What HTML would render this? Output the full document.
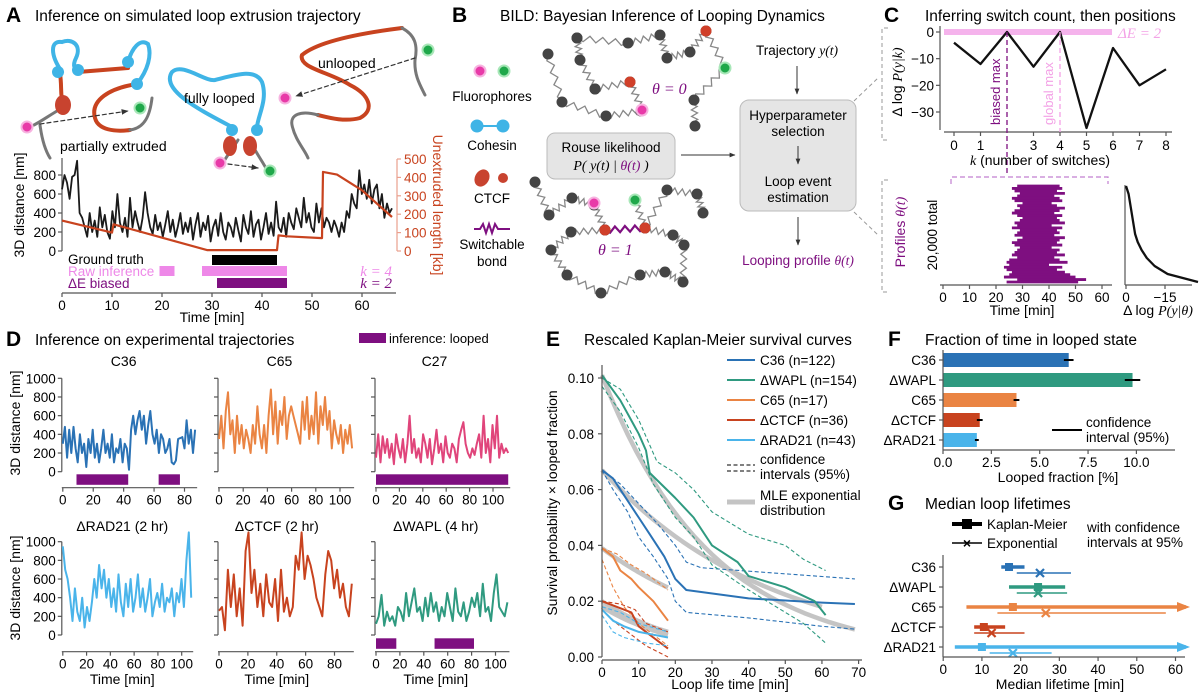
<!DOCTYPE html>
<html><head><meta charset="utf-8"><style>
html,body{margin:0;padding:0;background:#fff;}
svg{display:block;font-family:"Liberation Sans",sans-serif;}
text{font-family:"Liberation Sans",sans-serif;}
.it{font-family:"Liberation Serif",serif;font-style:italic;}
</style></head><body>
<svg id="fig" width="1200" height="698" viewBox="0 0 1200 698" xmlns="http://www.w3.org/2000/svg">
<defs>
<marker id="arr" viewBox="0 0 10 10" refX="9" refY="5" markerWidth="6" markerHeight="6" orient="auto"><path d="M0,1 L10,5 L0,9 z" fill="#333"/></marker>
</defs>
<text x="6" y="22" font-size="21" font-weight="bold">A</text>
<text x="35" y="21" font-size="15.5">Inference on simulated loop extrusion trajectory</text>
<text x="452" y="22" font-size="21" font-weight="bold">B</text>
<text x="500" y="21" font-size="15.5">BILD: Bayesian Inference of Looping Dynamics</text>
<text x="884" y="22" font-size="21" font-weight="bold">C</text>
<text x="925" y="21" font-size="15.5">Inferring switch count, then positions</text>
<text x="6" y="346" font-size="21" font-weight="bold">D</text>
<text x="35" y="345" font-size="15.5">Inference on experimental trajectories</text>
<rect x="359" y="333" width="27" height="10" fill="#7e0f80"/>
<text x="389" y="343" font-size="13">inference: looped</text>
<text x="546" y="346" font-size="21" font-weight="bold">E</text>
<text x="584" y="345" font-size="15.5">Rescaled Kaplan-Meier survival curves</text>
<text x="888" y="346" font-size="21" font-weight="bold">F</text>
<text x="925" y="345" font-size="15.5">Fraction of time in looped state</text>
<text x="888" y="510" font-size="21" font-weight="bold">G</text>
<text x="925" y="509" font-size="15.5">Median loop lifetimes</text>

<g fill="none" stroke-linecap="round">
<path d="M62,72 C50,55 50,40 62,42 C72,38 82,45 76,58 C72,66 75,70 78,70" stroke="#3fb4e6" stroke-width="4"/>
<path d="M128,62 C132,48 140,38 148,44 C152,55 148,70 137,84" stroke="#3fb4e6" stroke-width="4"/>
<path d="M78,72 L128,68" stroke="#c8431f" stroke-width="4"/>
<path d="M60,74 C62,85 60,95 63,105" stroke="#c8431f" stroke-width="4"/>
<path d="M62,108 C50,115 40,122 34,125 M40,125 C42,140 45,150 50,158" stroke="#777" stroke-width="3"/>
<path d="M137,84 C110,88 90,100 95,118 C98,130 115,132 130,130" stroke="#c8431f" stroke-width="4"/>
<path d="M130,130 C145,128 150,115 152,98" stroke="#777" stroke-width="3"/>
<path d="M232,127 C200,110 160,90 172,72 C182,62 205,82 215,80 C235,75 255,68 262,82 C268,100 258,115 257,127" stroke="#3fb4e6" stroke-width="4"/>
<path d="M238,140 C232,150 225,158 222,165 M250,140 C255,152 262,160 268,172" stroke="#777" stroke-width="3"/>
<path d="M402,28 C370,32 320,40 302,55 C298,68 330,72 350,85 C370,95 375,110 360,118 C345,122 330,118 318,115" stroke="#c8431f" stroke-width="4"/>
<path d="M402,28 C415,35 418,45 415,60 C414,75 420,85 425,95 M318,115 C300,110 290,115 292,125 C295,140 305,150 308,158" stroke="#777" stroke-width="3"/>
<circle cx="58" cy="72" r="6" fill="#3fb4e6" stroke="none"/>
<circle cx="78" cy="70" r="6" fill="#3fb4e6" stroke="none"/>
<circle cx="128" cy="62" r="6" fill="#3fb4e6" stroke="none"/>
<circle cx="137" cy="84" r="6" fill="#3fb4e6" stroke="none"/>
<circle cx="232" cy="130" r="6" fill="#3fb4e6" stroke="none"/>
<circle cx="257" cy="130" r="6" fill="#3fb4e6" stroke="none"/>
<ellipse cx="63" cy="105" rx="8" ry="10" fill="#c8432f" stroke="none"/>
<ellipse cx="230" cy="146" rx="7" ry="10" fill="#c8432f" stroke="none"/>
<ellipse cx="250" cy="146" rx="7" ry="10" fill="#c8432f" stroke="none"/>
<circle cx="27" cy="127" r="5.5" fill="#e83aa8" stroke="#f7b3e0" stroke-width="2"/>
<circle cx="140" cy="108" r="5.5" fill="#1fa84a" stroke="#a8e7b8" stroke-width="2"/>
<circle cx="220" cy="163" r="5.5" fill="#e83aa8" stroke="#f7b3e0" stroke-width="2"/>
<circle cx="270" cy="171" r="5.5" fill="#1fa84a" stroke="#a8e7b8" stroke-width="2"/>
<circle cx="285" cy="98" r="5.5" fill="#e83aa8" stroke="#f7b3e0" stroke-width="2"/>
<circle cx="428" cy="50" r="5.5" fill="#1fa84a" stroke="#a8e7b8" stroke-width="2"/>
<path d="M40,124 L128,111" stroke="#333" stroke-width="1.2" stroke-dasharray="4,3" marker-end="url(#arr)"/>
<path d="M228,164 L258,168" stroke="#333" stroke-width="1.2" stroke-dasharray="4,3" marker-end="url(#arr)"/>
<path d="M415,58 L296,96" stroke="#333" stroke-width="1.2" stroke-dasharray="4,3" marker-end="url(#arr)"/>
</g>
<text x="60" y="151" font-size="14">partially extruded</text>
<text x="184" y="103" font-size="14">fully looped</text>
<text x="318" y="68" font-size="14">unlooped</text>

<g>
<circle cx="480" cy="71" r="5.5" fill="#e83aa8" stroke="#f7b3e0" stroke-width="2"/>
<circle cx="504" cy="71" r="5.5" fill="#1fa84a" stroke="#a8e7b8" stroke-width="2"/>
<text x="492" y="101" font-size="13.5" text-anchor="middle">Fluorophores</text>
<line x1="477" y1="126" x2="503" y2="126" stroke="#3fb4e6" stroke-width="2"/>
<circle cx="477" cy="126" r="6.5" fill="#3fb4e6"/>
<circle cx="503" cy="126" r="6.5" fill="#3fb4e6"/>
<text x="492" y="150" font-size="13.5" text-anchor="middle">Cohesin</text>
<ellipse cx="482" cy="178" rx="7" ry="9" fill="#c8432f" transform="rotate(30 482 178)"/>
<circle cx="503" cy="178" r="5" fill="#c8432f"/>
<text x="492" y="203" font-size="13.5" text-anchor="middle">CTCF</text>
<path d="M474,229 L480,229 L483,224 L486,233 L489,224 L492,233 L495,224 L498,229 L510,229" fill="none" stroke="#7e0f80" stroke-width="2"/>
<text x="492" y="249" font-size="13.5" text-anchor="middle">Switchable</text>
<text x="492" y="266" font-size="13.5" text-anchor="middle">bond</text>
</g>
<g id="bchains"></g>
<text x="652" y="94" font-size="16" class="it" fill="#7e0f80">θ = 0</text>
<text x="598" y="255" font-size="16" class="it" fill="#7e0f80">θ = 1</text>
<rect x="547" y="133" width="128" height="46" rx="8" fill="#e5e5e5" stroke="#bbb"/>
<text x="611" y="152" font-size="13.5" text-anchor="middle">Rouse likelihood</text>
<text x="611" y="170" font-size="14" text-anchor="middle" class="it">P( y(t) | <tspan fill="#7e0f80">θ(t)</tspan> )</text>
<text x="797" y="55" font-size="13.5" text-anchor="middle">Trajectory <tspan class="it">y(t)</tspan></text>
<line x1="797" y1="66" x2="797" y2="94" stroke="#333" marker-end="url(#arr)"/>
<line x1="681" y1="155" x2="735" y2="155" stroke="#333" marker-end="url(#arr)"/>
<rect x="740" y="100" width="116" height="111" rx="9" fill="#e5e5e5" stroke="#bbb"/>
<text x="798" y="120" font-size="13.5" text-anchor="middle">Hyperparameter</text>
<text x="798" y="136" font-size="13.5" text-anchor="middle">selection</text>
<line x1="798" y1="146" x2="798" y2="164" stroke="#333" marker-end="url(#arr)"/>
<text x="798" y="186" font-size="13.5" text-anchor="middle">Loop event</text>
<text x="798" y="202" font-size="13.5" text-anchor="middle">estimation</text>
<line x1="798" y1="217" x2="798" y2="245" stroke="#333" marker-end="url(#arr)"/>
<text x="798" y="265" font-size="13.5" text-anchor="middle" fill="#7e0f80">Looping profile <tspan class="it">θ(t)</tspan></text>
<path d="M854,101 L878,78 M854,212 L878,235" stroke="#999" stroke-dasharray="4,3" fill="none"/>
<path d="M888,28 L882,28 L882,140 L888,140 M888,180 L882,180 L882,292 L888,292" stroke="#999" stroke-dasharray="4,3" fill="none"/>

<g id="plots"></g>

<text x="1118" y="38" font-size="15" class="it" fill="#f3a2e6">ΔE = 2</text>
<text x="1040" y="165" font-size="14" text-anchor="middle"><tspan class="it">k</tspan> (number of switches)</text>
<text x="1000" y="125" font-size="13" fill="#7e0f80" transform="rotate(-90 1000 125)">biased max</text>
<text x="1053" y="125" font-size="13" fill="#f3a2e6" transform="rotate(-90 1053 125)">global max</text>
<text x="902" y="82" font-size="14" text-anchor="middle" transform="rotate(-90 902 82)">Δ log <tspan class="it">P(y|k)</tspan></text>
<text x="905" y="232" font-size="14" text-anchor="middle" fill="#7e0f80" transform="rotate(-90 905 232)">Profiles <tspan class="it">θ(t)</tspan></text>
<text x="937" y="235" font-size="13.5" text-anchor="middle" transform="rotate(-90 937 235)">20,000 total</text>
<text x="1022" y="315" font-size="14" text-anchor="middle">Time [min]</text>
<text x="1158" y="315" font-size="14" text-anchor="middle">Δ log <tspan class="it">P(y|θ)</tspan></text>
<text x="24" y="205" font-size="14" text-anchor="middle" transform="rotate(-90 24 205)">3D distance [nm]</text>
<text x="433" y="205" font-size="14" text-anchor="middle" fill="#c8431f" transform="rotate(90 433 205)">Unextruded length [kb]</text>
<text x="212" y="322" font-size="14" text-anchor="middle">Time [min]</text>
<text x="68" y="264" font-size="13.5">Ground truth</text>
<text x="68" y="276" font-size="13.5" fill="#ee88e8">Raw inference</text>
<text x="68" y="288" font-size="13.5" fill="#7e0f80">ΔE biased</text>
<text x="392" y="276" font-size="15" class="it" fill="#ee88e8" text-anchor="end">k = 4</text>
<text x="392" y="288" font-size="15" class="it" fill="#7e0f80" text-anchor="end">k = 2</text>
<text x="20" y="423" font-size="14" text-anchor="middle" transform="rotate(-90 20 423)">3D distance [nm]</text>
<text x="20" y="588" font-size="14" text-anchor="middle" transform="rotate(-90 20 588)">3D distance [nm]</text>
<text x="557" y="503" font-size="14" text-anchor="middle" transform="rotate(-90 557 503)">Survival probability × looped fraction</text>
<text x="730" y="689" font-size="14" text-anchor="middle">Loop life time [min]</text>
<text x="1058" y="482" font-size="14" text-anchor="middle">Looped fraction [%]</text>
<text x="1060" y="689" font-size="14" text-anchor="middle">Median lifetime [min]</text>
<text x="1086" y="427" font-size="13.5">confidence</text>
<text x="1086" y="442" font-size="13.5">interval (95%)</text>
<line x1="1052" y1="430" x2="1082" y2="430" stroke="#000" stroke-width="2"/>
<text x="987" y="529" font-size="13.5">Kaplan-Meier</text>
<text x="987" y="548" font-size="13.5">Exponential</text>
<text x="1087" y="532" font-size="13.5">with confidence</text>
<text x="1087" y="547" font-size="13.5">intervals at 95%</text>
<line x1="952" y1="524" x2="982" y2="524" stroke="#000" stroke-width="4"/>
<rect x="962" y="519" width="10" height="10" fill="#000"/>
<line x1="952" y1="543" x2="982" y2="543" stroke="#000" stroke-width="1.5"/>
<text x="967" y="548" font-size="14" font-weight="bold" text-anchor="middle">×</text>
</svg>
<script>
const aTrace = [650,800,720,550,780,800,950,400,350,250,150,400,200,320,150,460,250,380,200,130,420,250,600,300,200,350,150,560,250,420,300,200,350,620,400,250,180,380,220,300,150,280,420,200,330,150,260,400,180,300,200,350,120,280,400,150,300,220,370,100,250,330,160,400,200,120,300,250,150,350,220,100,380,250,180,420,150,280,330,120,250,400,180,300,160,520,250,200,350,150,400,300,230,450,350,250,560,300,400,250,200,500,300,450,250,350,300,200,320,250,150,300,200,420,350,600,500,450,850,600,700,550,750,500,650,700,450,600,350,500,400,450];
const aTraceDuration = 66;
const aUnextrudedT = [0,10,10.3,29,43,43.3,45,52,52.2,55,60,66];
const aUnextrudedKb = [165,100,145,5,5,85,80,70,430,415,330,185];
const aGroundTruth = [[30,43]];
const aRawInference = [[19.5,22.5],[28,45]];
const aBiased = [[31,45]];
const aXTicks = [0,10,20,30,40,50,60];
const aYTicks = [0,200,400,600,800];
const aY2Ticks = [0,100,200,300,400,500];
const cK = [0,1,2,3,4,5,6,7,8];
const cDeltaLogP = [-4,-12,0,-13,0,-36,-6,-20,-14];
const cKTickLabels = [0,1,3,4,5,6,7,8];
const cYTicks = [0,-10,-20,-30];
const cProfileStart = [28,26,27,29,28,26,27,30,28,29,27,26,28,30,29,27,28,26,29,28,27,30,28,26,27,29,28,27,26,28,25,24,25,23,24,26,25,23,28,24];
const cProfileEnd = [44,45,43,46,42,44,45,41,43,46,44,42,45,43,44,46,41,45,43,44,42,46,44,43,45,41,44,43,46,42,44,47,40,45,43,46,48,50,54,51];
const cProfileLogP = [0,-1,-1.5,-2,-2.5,-3,-3.5,-4.5,-6,-8,-11,-16,-28];
const cTimeTicks = [0,10,20,30,40,50,60];
const dNames = ["C36","C65","C27","ΔRAD21 (2 hr)","ΔCTCF (2 hr)","ΔWAPL (4 hr)"];
const dDurations = [87,110,113,108,92,110];
const dTraceC36 = [300,480,150,450,200,480,250,100,400,200,300,50,350,200,450,150,300,100,250,450,200,300,150,400,100,250,200,350,100,300,250,20,450,600,400,550,650,450,600,300,500,650,400,300,450,200,400,350,200,250,350,100,80,120,350,360,370,250,550,300,450,200,450];
const dTraceC65 = [350,600,250,650,850,400,550,200,600,300,500,250,450,350,200,500,300,700,400,250,500,200,600,880,400,750,300,650,500,800,350,600,700,600,500,400,300,750,450,800,350,600,400,850,300,700,500,800,450,650,250,550,400,300,500,200,450,300,500,250];
const dTraceC27 = [150,400,100,380,200,350,150,300,80,400,250,150,350,100,300,600,200,350,150,250,100,400,300,150,350,80,250,450,200,300,100,380,200,150,300,250,100,350,450,530,300,200,150,250,180,300,400,150,600,200,350,100,500,250,600,150,300,200,250,200];
const dTraceRAD21 = [950,700,600,400,150,500,250,150,400,80,300,150,350,600,400,750,500,700,400,600,300,500,250,650,350,200,550,300,600,250,400,650,300,500,250,400,600,200,350,450,300,550,250,400,350,500,200,450,350,600,300,800,1100,400];
const dTraceCTCF = [260,300,50,700,300,650,200,500,100,900,1100,450,700,300,550,200,650,350,300,600,150,700,250,400,200,300,850,700,1100,600,850,750,600,400,300,200,650,900,800,500,700,400,550,300,200,550];
const dTraceWAPL = [120,200,430,100,250,150,200,100,300,250,150,450,200,350,500,250,300,150,400,200,450,250,350,150,300,200,450,300,150,500,250,200,350,150,250,400,300,450,200,550,250,300,150,450,650,300,250,200,350];
const dLoopedC36 = [[9,43],[63,77]];
const dLoopedC27 = [[0,113]];
const dLoopedWAPL = [[0,17],[49,82]];
const dYTicks = [0,200,400,600,800,1000];
const eNames = ["C36 (n=122)","ΔWAPL (n=154)","C65 (n=17)","ΔCTCF (n=36)","ΔRAD21 (n=43)"];
const eC36T = [0,3,6,10,13,17,20,23,40,60,69], eC36S = [0.067,0.064,0.058,0.050,0.044,0.036,0.028,0.024,0.021,0.0195,0.019];
const eC36UpT = [0,5,10,15,20,23,27,69], eC36UpS = [0.067,0.062,0.055,0.048,0.040,0.034,0.032,0.028];
const eC36LoT = [0,3,7,10,14,18,20,23,40,60,69], eC36LoS = [0.067,0.060,0.052,0.043,0.036,0.028,0.020,0.016,0.014,0.011,0.010];
const eWAPLT = [0,5,10,12,13,20,25,30,37,40,50,58,61], eWAPLS = [0.101,0.092,0.080,0.074,0.066,0.057,0.050,0.040,0.034,0.029,0.025,0.020,0.015];
const eWAPLUpT = [0,5,10,15,20,25,30,40,50,55,61], eWAPLUpS = [0.100,0.096,0.085,0.070,0.066,0.060,0.052,0.044,0.040,0.035,0.031];
const eWAPLLoT = [0,5,10,14,20,25,30,40,50,55,61], eWAPLLoS = [0.097,0.088,0.075,0.062,0.050,0.043,0.033,0.024,0.016,0.012,0.005];
const eC65T = [0,3,5,8,10,14,18], eC65S = [0.039,0.036,0.031,0.028,0.025,0.020,0.013];
const eC65UpT = [0,4,8,12,18], eC65UpS = [0.039,0.037,0.033,0.030,0.024];
const eC65LoT = [0,3,6,10,14,18], eC65LoS = [0.035,0.025,0.018,0.012,0.008,0.004];
const eCTCFT = [0,4,8,10,14,18], eCTCFS = [0.020,0.018,0.016,0.011,0.007,0.003];
const eCTCFUpT = [0,5,9,12,18], eCTCFUpS = [0.020,0.019,0.017,0.012,0.009];
const eCTCFLoT = [0,4,8,12,18], eCTCFLoS = [0.017,0.012,0.008,0.004,0.000];
const eRADT = [0,3,6,10,14,18], eRADS = [0.017,0.013,0.011,0.009,0.008,0.007];
const eRADUpT = [0,5,10,18], eRADUpS = [0.018,0.016,0.012,0.009];
const eRADLoT = [0,3,6,12,18], eRADLoS = [0.015,0.009,0.007,0.005,0.004];
const eMleAmp = [0.067,0.101,0.039,0.020,0.018];
const eMleTau = [45.6,29.7,40,22.5,22];
const eMleTmax = [60,69,18,18,18];
const eXTicks = [0,10,20,30,40,50,60,70];
const eYTicks = [0,0.02,0.04,0.06,0.08,0.10];
const fNames = ["C36","ΔWAPL","C65","ΔCTCF","ΔRAD21"];
const fFraction = [6.5,9.8,3.8,1.9,1.75];
const fErr = [0.25,0.4,0.15,0.15,0.1];
const fXTicks = [0,2.5,5,7.5,10];
const gKmMed = [17,24.5,18,10.5,10], gKmLo = [15,17,6,8,3], gKmHi = [21,31.5,70,16,70];
const gExpMed = [25,24.5,26.5,12.5,18], gExpLo = [19,19,14,8,12], gExpHi = [33,32,57.5,21,28];
const gXTicks = [0,10,20,30,40,50,60];

const NS = "http://www.w3.org/2000/svg";
const root = document.getElementById('plots');
const COL = {c36:"#2a72b5", wapl:"#2f9a80", c65:"#ea8443", ctcf:"#c8431f", rad:"#4ab4ea", c27:"#e0457b", purple:"#7e0f80", pink:"#ee88e8"};
function lin(d0,d1,r0,r1){ return v => r0 + (v-d0)*(r1-r0)/(d1-d0); }
function mk(tag, attrs, name, parent){
  const e = document.createElementNS(NS, tag);
  for (const k in attrs) e.setAttribute(k, attrs[k]);
  
  
  (parent||root).appendChild(e);
  return e;
}
function txt(x,y,s,size,anchor,name,fill){
  const e = mk('text',{x:x,y:y,'font-size':size,'text-anchor':anchor||'start',fill:fill||'#000'},name);
  e.textContent = s; return e;
}
function poly(xs, ys, sx, sy, stroke, w, name, dash){
  let d = '';
  for (let i=0;i<xs.length;i++) d += (i?'L':'M') + sx(xs[i]).toFixed(1) + ',' + sy(ys[i]).toFixed(1);
  const a = {d:d, fill:'none', stroke:stroke, 'stroke-width':w, 'stroke-linejoin':'round'};
  if (dash) a['stroke-dasharray'] = dash;
  return mk('path', a, name);
}
function hline(x1,x2,y,stroke,w,name){ return mk('line',{x1:x1,x2:x2,y1:y,y2:y,stroke:stroke,'stroke-width':w},name); }
function vline(x,y1,y2,stroke,w,name){ return mk('line',{x1:x,x2:x,y1:y1,y2:y2,stroke:stroke,'stroke-width':w},name); }
const AX = "#555";
function xAxis(ticks, sx, y, x1, x2, name, fmt, size){
  hline(x1,x2,y,AX,1.2,name+'-line');
  ticks.forEach(t => { vline(sx(t),y,y+4,AX,1.2,name+'-tick'); txt(sx(t),y+17,fmt?fmt(t):String(t),size||13.5,'middle',name+'-label'); });
}
function yAxis(ticks, sy, x, y1, y2, name, fmt, size){
  vline(x,y1,y2,AX,1.2,name+'-line');
  ticks.forEach(t => { hline(x-4,x,sy(t),AX,1.2,name+'-tick'); txt(x-6,sy(t)+5,fmt?fmt(t):String(t),size||13.5,'end',name+'-label'); });
}
function timesFor(arr, T){ return arr.map((_,i)=> i*T/(arr.length-1)); }

(function(){
  const g = document.getElementById('bchains');
  function spring(x1,y1,x2,y2,col,w){
    const n=8, dx=x2-x1, dy=y2-y1, L=Math.hypot(dx,dy), nx=-dy/L, ny=dx/L;
    let d='M'+x1+','+y1;
    for(let i=1;i<n;i++){ const f=i/n, s=(i%2?3:-3); d+='L'+(x1+dx*f+nx*s).toFixed(1)+','+(y1+dy*f+ny*s).toFixed(1); }
    d+='L'+x2+','+y2;
    return mk('path',{d:d,fill:'none',stroke:col||'#888','stroke-width':w||1.3},'b-spring',g);
  }
  const chainA = [[548,54],[562,102],[606,116],[641,111]];
  const chainA2 = [[595,89],[630,82],[642,110]];
  const chainB = [[577,38],[628,43],[660,35],[667,58],[690,52],[706,31],[725,68],[694,100],[695,126]];
  const chainB2 = [[577,38],[580,60],[595,89]];
  const chainC = [[535,182],[549,215],[572,198],[594,205],[605,230]];
  const chainD = [[645,228],[667,190],[697,194],[703,213]];
  const loopE = [[605,230],[571,232],[551,250],[567,275],[601,293],[640,275],[665,272],[683,282],[684,245],[673,235],[645,228]];
  [chainA,chainA2,chainB,chainB2,chainC,chainD,loopE].forEach(c => { for(let i=0;i<c.length-1;i++) spring(c[i][0],c[i][1],c[i+1][0],c[i+1][1]); });
  spring(605,230,645,228,'#7e0f80',2.2);
  spring(635,200,645,228);
  [chainA,chainA2,chainB,chainB2,chainC,chainD,loopE].forEach(c => c.forEach(p => mk('circle',{cx:p[0],cy:p[1],r:5.5,fill:'#444'},'b-bead',g)));
  [[706,31],[630,82],[605,230],[645,228]].forEach(p => mk('circle',{cx:p[0],cy:p[1],r:5.5,fill:'#d0402a'},'b-ctcf-bead',g));
  [[642,110],[594,203]].forEach(p => mk('circle',{cx:p[0],cy:p[1],r:5.5,fill:'#e83aa8',stroke:'#f7b3e0','stroke-width':2},'b-fluor-pink',g));
  [[725,68],[635,200]].forEach(p => mk('circle',{cx:p[0],cy:p[1],r:5.5,fill:'#1fa84a',stroke:'#a8e7b8','stroke-width':2},'b-fluor-green',g));
})();

(function(){
  const sx = lin(0,60,62,362), sy = lin(0,800,251,175), sy2 = lin(0,500,251,159);
  yAxis(aYTicks, sy, 62, 158, 251, 'a-y-axis');
  vline(397,159,251,'#eaa08e',1.2,'a-y2-axis-line');
  aY2Ticks.forEach(t => { hline(397,401,sy2(t),'#eaa08e',1.2,'a-y2-tick'); txt(404,sy2(t)+5,String(t),13.5,'start','a-y2-label','#c8431f'); });
  xAxis(aXTicks, sx, 293, 62, 396, 'a-x-axis');
  poly(timesFor(aTrace,aTraceDuration), aTrace, sx, sy, '#1a1a1a', 1.8, 'a-distance-trace');
  poly(aUnextrudedT, aUnextrudedKb, sx, sy2, '#c8431f', 2.2, 'a-unextruded-line');
  aGroundTruth.forEach(b => mk('rect',{x:sx(b[0]),y:255,width:sx(b[1])-sx(b[0]),height:10,fill:'#000'},'a-ground-truth-bar'));
  aRawInference.forEach(b => mk('rect',{x:sx(b[0]),y:266,width:sx(b[1])-sx(b[0]),height:10,fill:COL.pink},'a-raw-inference-bar'));
  aBiased.forEach(b => mk('rect',{x:sx(b[0]),y:278,width:sx(b[1])-sx(b[0]),height:10,fill:COL.purple},'a-biased-bar'));
})();

(function(){
  const sx = lin(0,8,954,1166), sy = lin(0,-30,32,112);
  hline(944,1112,32,'#f5b3ec',6,'c-delta-e-band');
  yAxis(cYTicks, sy, 940, 26, 130, 'c-y-axis', t=>t<0?'−'+(-t):String(t));
  hline(944,1172,132,AX,1.2,'c-x-axis-line');
  cKTickLabels.forEach(t => { vline(sx(t),132,136,AX,1.2,'c-x-tick'); txt(sx(t),150,String(t),13.5,'middle','c-x-label'); });
  poly(cK, cDeltaLogP, sx, sy, '#111', 2.3, 'c-logp-line');
  mk('line',{x1:sx(2),x2:sx(2),y1:32,y2:176,stroke:COL.purple,'stroke-width':1.3,'stroke-dasharray':'5,3'},'c-biased-max-line');
  mk('line',{x1:sx(4),x2:sx(4),y1:32,y2:132,stroke:'#f3a2e6','stroke-width':1.3,'stroke-dasharray':'5,3'},'c-global-max-line');
  mk('path',{d:'M951,184 L951,177 L1108,177 L1108,184',fill:'none',stroke:'#c27fd0','stroke-width':1.2,'stroke-dasharray':'5,3'},'c-zoom-bracket');
  const px = lin(0,60,943,1102);
  const n = cProfileStart.length, y0 = 186, y1 = 282;
  cProfileStart.forEach((s,i) => {
    const y = y0 + (y1-y0)*i/(n-1);
    hline(px(s), px(cProfileEnd[i]), y, COL.purple, 2.8, 'c-profile-row');
  });
  xAxis(cTimeTicks, px, 285, 940, 1112, 'c-time-axis');
  const lx = lin(0,-15,1126,1165);
  vline(1125,185,285,AX,1.2,'c-logp-axis-left');
  hline(1125,1192,285,AX,1.2,'c-logp-axis-line');
  [0,-15].forEach(t => { vline(lx(t),285,289,AX,1.2,'c-logp-tick'); txt(lx(t),302,t<0?'−15':'0',13.5,'middle','c-logp-label'); });
  const ly = cProfileLogP.map((_,i)=> 186 + 96*i/(cProfileLogP.length-1));
  let d=''; cProfileLogP.forEach((v,i)=>{ d+=(i?'L':'M')+Math.min(lx(v),1198).toFixed(1)+','+ly[i].toFixed(1); });
  mk('path',{d:d,fill:'none',stroke:'#111','stroke-width':2.3,'stroke-linejoin':'round'},'c-profile-logp-curve');
})();

(function(){
  const traces = [dTraceC36,dTraceC65,dTraceC27,dTraceRAD21,dTraceCTCF,dTraceWAPL];
  const cols = [COL.c36,COL.c65,COL.c27,COL.rad,COL.ctcf,COL.wapl];
  const looped = [dLoopedC36,[],dLoopedC27,[],[],dLoopedWAPL];
  const layout = [
    {x0:62.8,x1:184.5,xv:80,top:378.3,bot:471.7,ax:487.7,bar:474.3,tx:366,ticks:[0,20,40,60,80]},
    {x0:219,x1:340,xv:100,top:378.3,bot:471.7,ax:487.7,bar:474.3,tx:366,ticks:[0,20,40,60,80,100]},
    {x0:376,x1:493,xv:100,top:378.3,bot:471.7,ax:487.7,bar:474.3,tx:366,ticks:[0,20,40,60,80,100]},
    {x0:62.8,x1:181.7,xv:100,top:541.7,bot:635,ax:651.7,bar:638.3,tx:531,ticks:[0,20,40,60,80,100]},
    {x0:219,x1:334.5,xv:80,top:541.7,bot:635,ax:651.7,bar:638.3,tx:531,ticks:[0,20,40,60,80]},
    {x0:376,x1:495.5,xv:100,top:541.7,bot:635,ax:651.7,bar:638.3,tx:531,ticks:[0,20,40,60,80,100]}
  ];
  traces.forEach((tr,k) => {
    const L = layout[k];
    const sx = lin(0,L.xv,L.x0,L.x1), sy = lin(0,1000,L.bot,L.top);
    if (k%3===0) yAxis(dYTicks, sy, L.x0-1, L.top, L.bot, 'd-y-axis');
    else { vline(L.x0-1,L.top,L.bot,AX,1.2,'d-y-axis-line'); dYTicks.forEach(t=>hline(L.x0-5,L.x0-1,sy(t),AX,1.2,'d-y-tick')); }
    xAxis(L.ticks, sx, L.ax, L.x0-1, sx(dDurations[k])+2, 'd-x-axis');
    if (k>=3) txt((L.x0+L.x1)/2, 684, 'Time [min]', 14, 'middle', 'd-x-axis-title');
    txt((L.x0+L.x1)/2, L.tx, dNames[k], 14, 'middle', 'd-subplot-title');
    poly(timesFor(tr,dDurations[k]), tr, sx, sy, cols[k], 2, 'd-trace');
    looped[k].forEach(b => mk('rect',{x:sx(b[0]),y:L.bar,width:sx(b[1])-sx(b[0]),height:10.5,fill:COL.purple},'d-looped-bar'));
  });
})();

(function(){
  const sx = lin(0,70,602,858.6), sy = lin(0,0.10,657,378);
  const series = [
    [eC36T,eC36S,eC36UpT,eC36UpS,eC36LoT,eC36LoS,COL.c36],
    [eWAPLT,eWAPLS,eWAPLUpT,eWAPLUpS,eWAPLLoT,eWAPLLoS,COL.wapl],
    [eC65T,eC65S,eC65UpT,eC65UpS,eC65LoT,eC65LoS,COL.c65],
    [eCTCFT,eCTCFS,eCTCFUpT,eCTCFUpS,eCTCFLoT,eCTCFLoS,COL.ctcf],
    [eRADT,eRADS,eRADUpT,eRADUpS,eRADLoT,eRADLoS,COL.rad]
  ];
  eMleAmp.forEach((a,i) => {
    const ts=[], vs=[];
    for (let j=0;j<=30;j++){ const t=eMleTmax[i]*j/30; ts.push(t); vs.push(a*Math.exp(-t/eMleTau[i])); }
    poly(ts, vs, sx, sy, '#c4c4c4', 4.5, 'e-mle-curve');
  });
  series.forEach(s => {
    poly(s[2], s[3], sx, sy, s[6], 1.1, 'e-ci-upper', '4,2.5');
    poly(s[4], s[5], sx, sy, s[6], 1.1, 'e-ci-lower', '4,2.5');
    poly(s[0], s[1], sx, sy, s[6], 2, 'e-km-curve');
  });
  vline(602,365,657,AX,1.2,'e-y-axis-line');
  eYTicks.forEach(t => { hline(598,602,sy(t),AX,1.2,'e-y-tick'); txt(594,sy(t)+5,t.toFixed(2),13.5,'end','e-y-label'); });
  xAxis(eXTicks, sx, 660, 602, 862, 'e-x-axis');
  const lc = [COL.c36,COL.wapl,COL.c65,COL.ctcf,COL.rad];
  eNames.forEach((n,i) => {
    const y = 360 + 20*i;
    hline(727,755,y,lc[i],2,'e-legend-line');
    txt(760,y+5,n,13.5,'start','e-legend-label');
  });
  mk('line',{x1:727,x2:755,y1:465,y2:465,stroke:'#000','stroke-width':1.1,'stroke-dasharray':'4,2.5'},'e-legend-ci-line');
  mk('line',{x1:727,x2:755,y1:471,y2:471,stroke:'#000','stroke-width':1.1,'stroke-dasharray':'4,2.5'},'e-legend-ci-line');
  txt(760,464,'confidence',13.5,'start','e-legend-ci-label');
  txt(760,479,'intervals (95%)',13.5,'start','e-legend-ci-label');
  hline(727,755,502,'#c4c4c4',5,'e-legend-mle-line');
  txt(760,500,'MLE exponential',13.5,'start','e-legend-mle-label');
  txt(760,515,'distribution',13.5,'start','e-legend-mle-label');
})();

(function(){
  const sx = lin(0,10,943,1136.4);
  const cols = [COL.c36,COL.wapl,COL.c65,COL.ctcf,COL.rad];
  fFraction.forEach((v,i) => {
    const y = 360 + 20*i;
    mk('rect',{x:943,y:y-7,width:sx(v)-943,height:14,fill:cols[i]},'f-bar');
    hline(sx(v-fErr[i]),sx(v+fErr[i]),y,'#000',2,'f-error-bar');
    hline(939,943,y,AX,1.2,'f-y-tick');
    txt(936,y+5,fNames[i],13.5,'end','f-category-label');
  });
  vline(943,350,450,AX,1.2,'f-y-axis-line');
  xAxis(fXTicks, sx, 450, 943, 1175, 'f-x-axis', t=>t.toFixed(1));
})();

(function(){
  const sx = lin(0,60,943.2,1175.5);
  const cols = [COL.c36,COL.wapl,COL.c65,COL.ctcf,COL.rad];
  const xMaxPx = 1186;
  fNames.forEach((n,i) => {
    const y = 567 + 20*i, ye = y + 6;
    const hi = Math.min(sx(gKmHi[i]), xMaxPx);
    hline(sx(gKmLo[i]), hi, y, cols[i], 3.5, 'g-km-interval');
    if (sx(gKmHi[i]) > xMaxPx) mk('path',{d:`M${xMaxPx-9},${y-5} L${xMaxPx+4},${y} L${xMaxPx-9},${y+5} z`,fill:cols[i]},'g-km-arrowhead');
    mk('rect',{x:sx(gKmMed[i])-4,y:y-4,width:8,height:8,fill:cols[i]},'g-km-median');
    hline(sx(gExpLo[i]), sx(gExpHi[i]), ye, cols[i], 1.6, 'g-exp-interval');
    const cx = sx(gExpMed[i]);
    mk('path',{d:`M${cx-4},${ye-4} L${cx+4},${ye+4} M${cx-4},${ye+4} L${cx+4},${ye-4}`,stroke:cols[i],'stroke-width':2.2},'g-exp-median');
    hline(939,943,y,AX,1.2,'g-y-tick');
    txt(936,y+5,n,13.5,'end','g-category-label');
  });
  vline(943,555,657,AX,1.2,'g-y-axis-line');
  xAxis(gXTicks, sx, 657, 943, 1185, 'g-x-axis');
})();
</script>
</body></html>
